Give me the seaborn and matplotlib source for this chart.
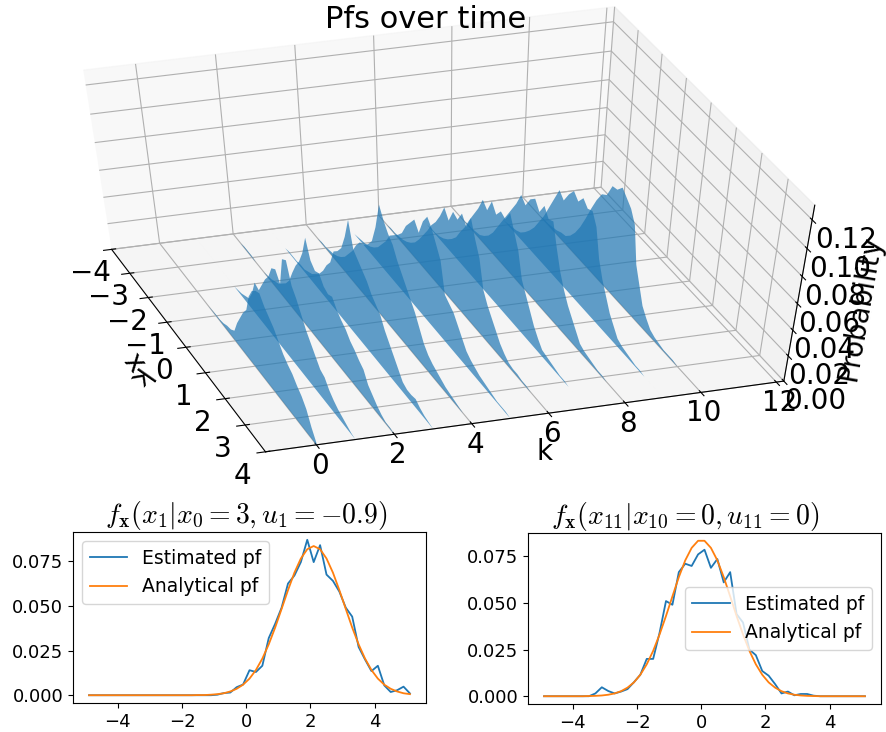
import numpy as np
import matplotlib
matplotlib.use("Agg")
import matplotlib.pyplot as plt
from matplotlib.collections import PolyCollection
from mpl_toolkits.mplot3d import Axes3D
import seaborn as sns

# ====================================================================
#   DATA
# ====================================================================
x_grid = np.round(np.arange(-4.9, 5.11, 0.2), 1)
x_3d = np.round(np.arange(-4.0, 4.01, 0.2), 1)
k_values = [0, 1, 2, 3, 4, 5, 6, 7, 8, 9, 10]

est_first = [0, 0, 0, 0, 0, 0, 0, 0, 0, 0, 0, 0, 0, 0, 0, 0, 0, 0, 0, 0,
             .0003, .0012, .0015, .0045, .0060, .0140, .0130, .0165, .0320, .0400, .0490,
             .0625, .0670, .0745, .0870, .0745, .0840, .0675, .0640, .0580, .0490,
             .0440, .0270, .0200, .0135, .0165, .0055, .0018, .0028, .0048, .0010]
ana_first = [0, 0, 0, 0, 0, 0, 0, 0, 0, 0, 0, 0, 0, 0, 0, 0, 0, .0001, .0001, .0003, .0006,
             .0011, .0021, .0036, .0059, .0093, .0141, .0205, .0285, .0379, .0483, .0588,
             .0686, .0765, .0817, .0835, .0817, .0765, .0686, .0588, .0483, .0379,
             .0285, .0205, .0141, .0093, .0059, .0036, .0021, .0011, .0006]
est_last = [0, 0, 0, 0, 0, 0, 0, 0, .0015, .0048, .0028, .0015, .0025, .0038, .0075, .0115, .0200,
            .0200, .0340, .0510, .0490, .0665, .0710, .0698, .0760, .0785, .0688, .0735, .0610,
            .0665, .0440, .0395, .0250, .0220, .0135, .0110, .0065, .0015, .0025, .0005, .0012,
            .0012, .0003, 0, 0, 0, 0, 0, 0, 0, 0]
ana_last = [0, 0, 0, 0, 0, 0, 0, .0001, .0002, .0004, .0008, .0015, .0027, .0046, .0074, .0115, .0171,
            .0243, .0331, .0430, .0535, .0638, .0728, .0795, .0833, .0833, .0795, .0728, .0638,
            .0535, .0430, .0331, .0243, .0171, .0115, .0074, .0046, .0027, .0015, .0008, .0004,
            .0002, .0001, 0, 0, 0, 0, 0, 0, 0, 0]

# one row per k, sampled at x_3d
slices = [
    [0, 0, 0, 0, 0, 0, 0, 0, 0, 0, 0, 0, 0, 0, .0005, .001, .001, .002, .004, .005, .008,
     .018, .026, .034, .040, .054, .062, .066, .068, .062, .058, .054, .048, .042, .038, .035, .030, .026, .020, .010, .002],
    [0, 0, 0, 0, 0, 0, 0, 0, 0, 0, 0, .001, .002, .004, .006, .014, .026, .024, .032, .040, .046,
     .056, .059, .052, .074, .077, .062, .056, .048, .040, .034, .028, .022, .020, .014, .010, .007, .005, .003, .001, 0],
    [0, 0, 0, .001, .001, .001, 0, 0, 0, .001, .002, .004, .006, .010, .014, .020, .030, .039, .046, .056, .071,
     .058, .054, .056, .050, .048, .050, .044, .040, .037, .032, .029, .025, .022, .014, .010, .006, .003, .001, .001, 0],
    [0, 0, 0, 0, 0, .001, .001, .001, .002, .002, .004, .006, .010, .014, .020, .028, .034, .046, .050, .056, .068,
     .084, .066, .062, .058, .054, .048, .044, .040, .032, .026, .020, .014, .008, .006, .006, .007, .004, .002, .001, 0],
    [0, 0, 0, 0, .001, .001, .002, .003, .005, .008, .012, .018, .024, .032, .038, .040, .044, .050, .064, .084, .076,
     .070, .066, .058, .052, .046, .040, .034, .026, .018, .013, .010, .008, .006, .004, .003, .002, .001, 0, 0, 0],
    [0, 0, 0, 0, .001, .002, .003, .005, .008, .012, .018, .024, .032, .036, .040, .045, .054, .060, .066, .060, .072,
     .079, .074, .066, .058, .036, .033, .030, .024, .018, .012, .009, .007, .005, .004, .003, .002, .001, .001, .001, 0],
    [0, 0, 0, .001, .001, .002, .003, .005, .008, .012, .018, .025, .032, .040, .046, .054, .064, .058, .068, .066, .074,
     .068, .078, .066, .056, .036, .028, .022, .016, .010, .006, .003, .002, .002, .001, .001, 0, 0, 0, 0, 0],
    [0, 0, 0, 0, .001, .001, .002, .004, .007, .011, .016, .024, .031, .040, .048, .056, .066, .062, .072, .066, .072,
     .070, .078, .068, .058, .040, .032, .024, .016, .010, .005, .004, .003, .002, .001, .001, 0, 0, 0, 0, 0],
    [0, 0, 0, 0, .001, .001, .002, .003, .006, .010, .016, .024, .032, .040, .048, .056, .066, .062, .070, .074, .068,
     .076, .070, .072, .056, .042, .032, .024, .018, .012, .006, .004, .003, .002, .001, .001, 0, 0, 0, 0, 0],
    [0, 0, 0, 0, 0, .001, .002, .003, .005, .009, .014, .020, .028, .036, .046, .056, .066, .062, .070, .076, .072,
     .078, .074, .076, .068, .048, .036, .027, .018, .012, .006, .004, .003, .002, .001, .001, 0, 0, 0, 0, 0],
    [0, 0, 0, 0, 0, .001, .001, .002, .003, .005, .006, .010, .016, .024, .034, .045, .055, .063, .066, .076, .077,
     .082, .078, .074, .066, .040, .028, .016, .010, .005, .003, .002, .001, .001, .001, 0, 0, 0, 0, 0, 0],
]

k_ticks = [0, 2, 4, 6, 8, 10, 12]
x_ticks = [-4, -3, -2, -1, 0, 1, 2, 3, 4]
z_ticks = [0.00, 0.02, 0.04, 0.06, 0.08, 0.10, 0.12]

# ====================================================================
#   FIGURE
# ====================================================================
fig = plt.figure(figsize=(8.86, 7.32), dpi=100)
W, H = 886.0, 732.0

# 3D panel fills its whole rectangle (no square shrink)
ax3 = fig.add_axes([-0.042, 0.362, 1.05, 0.634], projection="3d")
def fill_rect(position=None):
    ax3._set_position(ax3.get_position(original=True), "active")
ax3.apply_aspect = fill_rect

verts = []
for vals in slices:
    verts.append([(x_3d[0], 0)] + list(zip(x_3d, vals)) + [(x_3d[-1], 0)])
poly = PolyCollection(verts, facecolors=sns.color_palette("tab10")[0], alpha=0.7)
ax3.add_collection3d(poly, zs=k_values, zdir="y")

ax3.set_xlim(-4, 4)
ax3.set_ylim(-1.3, 12.2)
ax3.set_zlim(0, 0.13)
ax3.set_xticks(x_ticks)
ax3.set_yticks(k_ticks)
ax3.set_zticks(z_ticks)
ax3.tick_params(labelsize=20)
ax3.tick_params(axis="y", pad=-3)
ax3.set_ylabel("k", fontsize=20)
ax3.set_zlabel("Probability", fontsize=20, labelpad=1)
ax3.set_title("Pfs over time", fontsize=22, y=1.008, x=0.498)
ax3.view_init(elev=50, azim=-18.5)
ax3.set_box_aspect((1, 1, 1), zoom=1.0)
# the x and k labels overlap beside the x axis
fig.text(134 / W, 1 - 363 / H, "x", fontsize=20, rotation=-52, ha="center", va="center")
fig.text(137 / W, 1 - 377 / H, "k", fontsize=20, rotation=-125, ha="center", va="center")

plt.rcParams["mathtext.fontset"] = "cm"

ax1 = fig.add_axes([73 / W, 1 - 703 / H, 353 / W, 171 / H])
sns.lineplot(x=x_grid, y=est_first, label="Estimated pf", ax=ax1, linewidth=1.3)
sns.lineplot(x=x_grid, y=ana_first, label="Analytical pf", ax=ax1, linewidth=1.3)
ax1.set_title(r"$f_{\mathbf{x}}(x_1|x_0=3,u_1=-0.9)$", fontsize=20, pad=1, x=0.49)
ax1.tick_params(labelsize=13)
ax1.legend(fontsize=13.5, loc="upper left")

ax2 = fig.add_axes([528 / W, 1 - 704 / H, 353 / W, 171 / H])
sns.lineplot(x=x_grid, y=est_last, label="Estimated pf", ax=ax2, linewidth=1.3)
sns.lineplot(x=x_grid, y=ana_last, label="Analytical pf", ax=ax2, linewidth=1.3)
ax2.set_title(r"$f_{\mathbf{x}}(x_{11}|x_{10}=0,u_{11}=0)$", fontsize=20, pad=1, x=0.445)
ax2.tick_params(labelsize=13)
ax2.legend(fontsize=13.5, loc="center right", bbox_to_anchor=(1.0, 0.5))

fig.savefig("out.png", dpi=100)
